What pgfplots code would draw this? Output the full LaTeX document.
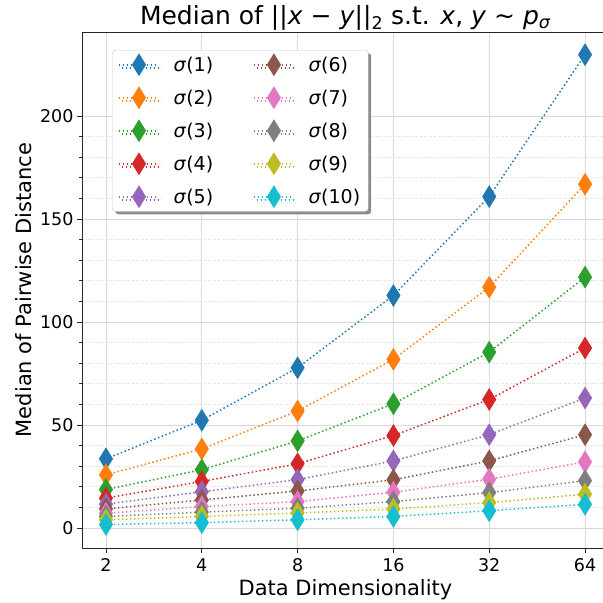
\documentclass[border=0pt]{standalone}
\usepackage{fontspec}
\setmainfont{DejaVu Sans}
\usepackage{pgfplots}
\pgfplotsset{compat=1.18}
\usetikzlibrary{shadows}
\definecolor{c1}{HTML}{1F77B4}
\definecolor{c2}{HTML}{FF7F0E}
\definecolor{c3}{HTML}{2CA02C}
\definecolor{c4}{HTML}{D62728}
\definecolor{c5}{HTML}{9467BD}
\definecolor{c6}{HTML}{8C564B}
\definecolor{c7}{HTML}{E377C2}
\definecolor{c8}{HTML}{7F7F7F}
\definecolor{c9}{HTML}{BCBD22}
\definecolor{c10}{HTML}{17BECF}
\pgfplotstableread{
x   s1    s2    s3    s4    s5    s6    s7    s8    s9    s10
2   33.6  25.8  18.7  14.5  11.6  9.3   7.2   5.6   4.0   1.7
4   52.3  38.4  28.3  22.6  17.6  13.6  10.4  7.7   5.6   2.6
8   77.8  56.8  42.3  31.2  23.5  18.0  12.8  9.6   7.3   4.0
16  112.9 81.9  60.3  44.9  32.6  23.4  17.4  12.8  9.2   5.6
32  160.9 116.9 85.4  62.4  45.3  32.6  23.7  17.2  12.3  8.4
64  229.8 166.9 121.8 87.4  63.1  45.3  32.1  23.0  16.4  11.5
}\datatable
\pgfplotsset{
  ser/.style={color=#1, line width=1.5pt, dash pattern=on 1.5pt off 2.5pt,
    mark=diamond*, mark size=10.5pt,
    mark options={solid, fill=#1, draw=#1, line width=1pt, xscale=0.82}},
}
\begin{document}
\begin{tikzpicture}[x=1pt,y=1pt]
\path[use as bounding box] (0,0) rectangle (603,603);
\begin{axis}[
  at={(82pt,55pt)}, anchor=south west, scale only axis,
  width=527pt, height=516pt,
  xmode=log, log basis x=2, xmin=1.6818, xmax=76.109,
  ymin=-9.7, ymax=240.8,
  xtick={2,4,8,16,32,64}, xticklabels={2,4,8,16,32,64},
  ytick={0,50,100,150,200}, minor y tick num=4,
  minor x tick style={draw=none},
  grid=both, xminorgrids=false,
  major grid style={color=black!15, line width=0.9pt},
  minor grid style={color=black!9, line width=0.7pt, dash pattern=on 3pt off 1.5pt},
  tick align=outside, tick pos=left,
  major tick length=5pt, minor tick length=3pt,
  axis line style={black!85, line width=0.9pt},
  tick style={black!85, line width=0.9pt},
  ticklabel style={font=\fontsize{17.5}{20}\selectfont},
  /pgf/number format/assume math mode=true,
  xticklabel style={yshift=-2pt},
  xlabel={Data Dimensionality},
  ylabel={Median of Pairwise Distance},
  label style={font=\fontsize{21}{24}\selectfont},
  xlabel style={at={(axis description cs:0.5,-0.0911)}, anchor=base},
  ylabel style={at={(axis description cs:-0.0949,0.5)}, anchor=base},
  title={Median of ||\textit{x} − \textit{y}||\textsubscript{2} s.t. \textit{x}, \textit{y} ∼ \textit{p}\textsubscript{\textit{σ}}},
  title style={font=\fontsize{25}{28}\selectfont, at={(axis description cs:0.5,1)}, anchor=base, yshift=1pt},
  legend columns=5, transpose legend, legend cell align=left,
  legend image code/.code={\draw[#1, mark repeat=2, mark phase=2] plot coordinates {(0pt,0pt) (20pt,0pt) (40pt,0pt)};},
  legend style={at={(0.057,0.965)}, anchor=north west, draw=black!20, fill=white,
    rounded corners=3pt, font=\fontsize{19}{22}\selectfont, row sep=12pt,
    inner xsep=6pt, inner ysep=4pt,
    drop shadow={shadow xshift=3pt, shadow yshift=-3pt, fill=black!45, opacity=1},
    /tikz/every odd column/.style={column sep=12pt},
    /tikz/every even column/.style={column sep=38pt}},
]
\addplot[ser=c1] table[x=x,y=s1] {\datatable}; \addlegendentry{\textit{σ}(1)}
\addplot[ser=c2] table[x=x,y=s2] {\datatable}; \addlegendentry{\textit{σ}(2)}
\addplot[ser=c3] table[x=x,y=s3] {\datatable}; \addlegendentry{\textit{σ}(3)}
\addplot[ser=c4] table[x=x,y=s4] {\datatable}; \addlegendentry{\textit{σ}(4)}
\addplot[ser=c5] table[x=x,y=s5] {\datatable}; \addlegendentry{\textit{σ}(5)}
\addplot[ser=c6] table[x=x,y=s6] {\datatable}; \addlegendentry{\textit{σ}(6)}
\addplot[ser=c7] table[x=x,y=s7] {\datatable}; \addlegendentry{\textit{σ}(7)}
\addplot[ser=c8] table[x=x,y=s8] {\datatable}; \addlegendentry{\textit{σ}(8)}
\addplot[ser=c9] table[x=x,y=s9] {\datatable}; \addlegendentry{\textit{σ}(9)}
\addplot[ser=c10] table[x=x,y=s10] {\datatable}; \addlegendentry{\textit{σ}(10)}
\end{axis}
\end{tikzpicture}
\end{document}
